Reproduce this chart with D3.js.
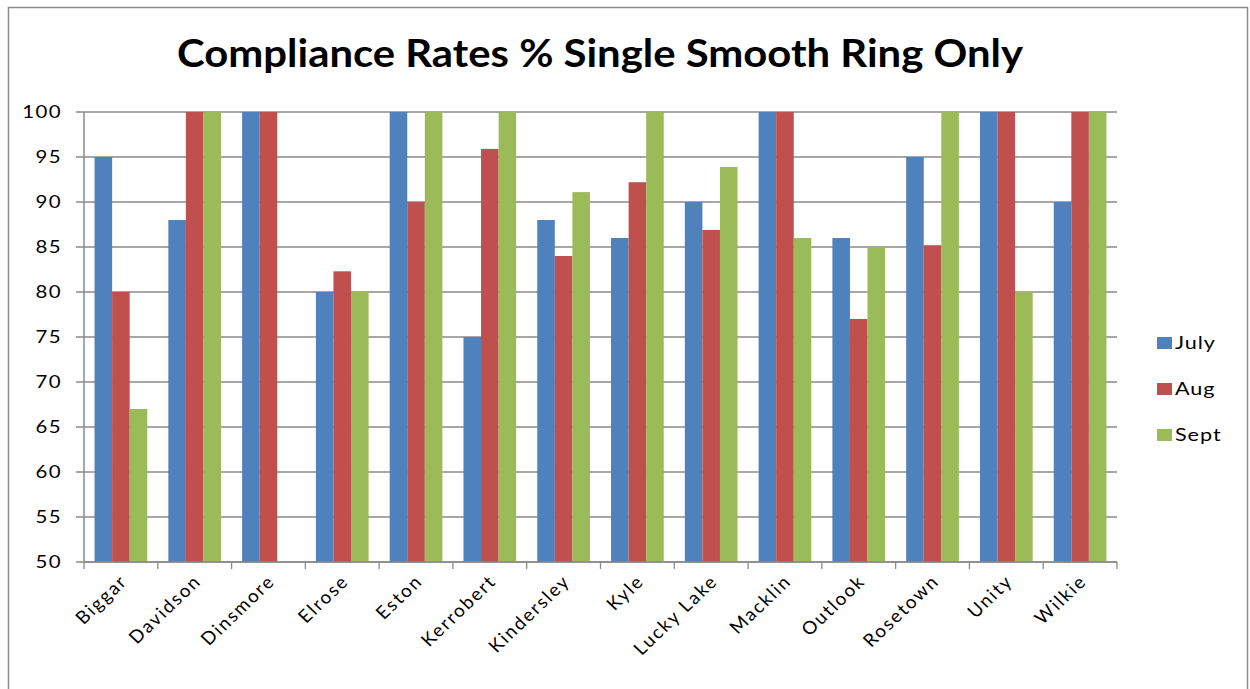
<!DOCTYPE html>
<html>
<head>
<meta charset="utf-8">
<script src="https://cdn.jsdelivr.net/npm/d3@7"></script>
<style>
  html, body { margin: 0; padding: 0; background: #fff; }
  svg { display: block; }
</style>
</head>
<body>
<svg id="chart" width="1250" height="689"></svg>
<script>
// Compliance rates by location, per month
const categories = ["Biggar", "Davidson", "Dinsmore", "Elrose", "Eston", "Kerrobert", "Kindersley",
                    "Kyle", "Lucky Lake", "Macklin", "Outlook", "Rosetown", "Unity", "Wilkie"];
const seriesNames = ["July", "Aug", "Sept"];
const july = [95, 88, 100, 80, 100, 75, 88, 86, 90, 100, 86, 95, 100, 90];
const aug  = [80, 100, 100, 82.3, 90, 95.9, 84, 92.2, 86.9, 100, 77, 85.2, 100, 100];
const sept = [67, 100, null, 80, 100, 100, 91.1, 100, 93.9, 86, 85, 100, 80, 100];
const yTicks = [50, 55, 60, 65, 70, 75, 80, 85, 90, 95, 100];
const colors = ["#4f81bd", "#c0504d", "#9bbb59"];
const title = "Compliance Rates % Single Smooth Ring Only";

const seriesValues = [july, aug, sept];
const FONT = "Lato, 'Open Sans', sans-serif";
const GRID = "#8a8a8a";
const svg = d3.select("#chart");

// outer chart frame
svg.append("rect")
  .attr("x", 8.5).attr("y", 7.5)
  .attr("width", 1239).attr("height", 700)
  .attr("fill", "#fff").attr("stroke", "#8c8c8c").attr("stroke-width", 1.5);

const plot = { left: 84, right: 1117, top: 112, bottom: 562 };

const x0 = d3.scaleBand().domain(categories).range([plot.left, plot.right]).paddingInner(0).paddingOuter(0);
const x1 = d3.scaleBand().domain(seriesNames).range([0, x0.bandwidth()]).paddingInner(0).paddingOuter(0.6);
const y = d3.scaleLinear().domain([50, 100]).range([plot.bottom, plot.top]);

// gridlines (extending left as tick marks)
svg.append("g")
  .selectAll("line")
  .data(yTicks)
  .join("line")
  .attr("x1", plot.left - 8).attr("x2", plot.right)
  .attr("y1", d => y(d)).attr("y2", d => y(d))
  .attr("stroke", GRID).attr("stroke-width", 1.3);

// bars
const groups = svg.append("g")
  .selectAll("g")
  .data(categories)
  .join("g")
  .attr("transform", d => `translate(${x0(d)},0)`);

groups.selectAll("rect")
  .data((d, i) => seriesNames.map((s, j) => ({ s, j, v: seriesValues[j][i] })).filter(e => e.v != null))
  .join("rect")
  .attr("x", e => x1(e.s))
  .attr("width", x1.bandwidth())
  .attr("y", e => y(e.v))
  .attr("height", e => y(50) - y(e.v))
  .attr("fill", e => colors[e.j]);

// y axis line and labels
svg.append("line")
  .attr("x1", plot.left).attr("x2", plot.left)
  .attr("y1", plot.top).attr("y2", plot.bottom)
  .attr("stroke", GRID).attr("stroke-width", 1.5);
svg.append("g")
  .selectAll("text")
  .data(yTicks)
  .join("text")
  .attr("transform", d => `translate(${plot.left - 22},${y(d)}) scale(1.2,1)`)
  .attr("text-anchor", "end")
  .attr("dy", "0.36em")
  .attr("font-family", FONT)
  .attr("font-size", 17)
  .attr("letter-spacing", 1.2)
  .attr("fill", "#000")
  .text(d => d);

// x axis with ticks between categories
const xAxisG = svg.append("g").attr("transform", `translate(0,${plot.bottom})`);
xAxisG.append("line")
  .attr("x1", plot.left).attr("x2", plot.right)
  .attr("stroke", GRID).attr("stroke-width", 1.5);
xAxisG.selectAll("line.tk")
  .data(d3.range(categories.length + 1))
  .join("line")
  .attr("class", "tk")
  .attr("x1", i => plot.left + i * x0.bandwidth())
  .attr("x2", i => plot.left + i * x0.bandwidth())
  .attr("y1", 0).attr("y2", 7)
  .attr("stroke", GRID).attr("stroke-width", 1.3);
xAxisG.selectAll("text")
  .data(categories)
  .join("text")
  .attr("transform", d => `translate(${x0(d) + x0.bandwidth() / 2 + 3},${16}) scale(1.05,1) rotate(-45)`)
  .attr("text-anchor", "end")
  .attr("dy", "0.35em")
  .attr("font-family", FONT)
  .attr("font-size", 18)
  .attr("letter-spacing", 1.8)
  .attr("fill", "#000")
  .text(d => d);

// title
svg.append("text")
  .attr("x", 600).attr("y", 67)
  .attr("text-anchor", "middle")
  .attr("font-family", FONT)
  .attr("font-weight", "bold")
  .attr("font-size", 39)
  .attr("textLength", 846)
  .attr("lengthAdjust", "spacingAndGlyphs")
  .attr("fill", "#000")
  .text(title);

// legend
const legend = svg.append("g")
  .selectAll("g")
  .data(seriesNames)
  .join("g")
  .attr("transform", (d, i) => `translate(1157,${343 + i * 46})`);
legend.append("rect")
  .attr("x", 0).attr("y", -6)
  .attr("width", 15).attr("height", 12)
  .attr("fill", (d, i) => colors[i]);
legend.append("text")
  .attr("transform", "translate(18,0) scale(1.2,1)")
  .attr("dy", "0.36em")
  .attr("font-family", FONT)
  .attr("font-size", 18)
  .attr("letter-spacing", 0.8)
  .attr("fill", "#000")
  .text(d => d);
</script>
</body>
</html>
